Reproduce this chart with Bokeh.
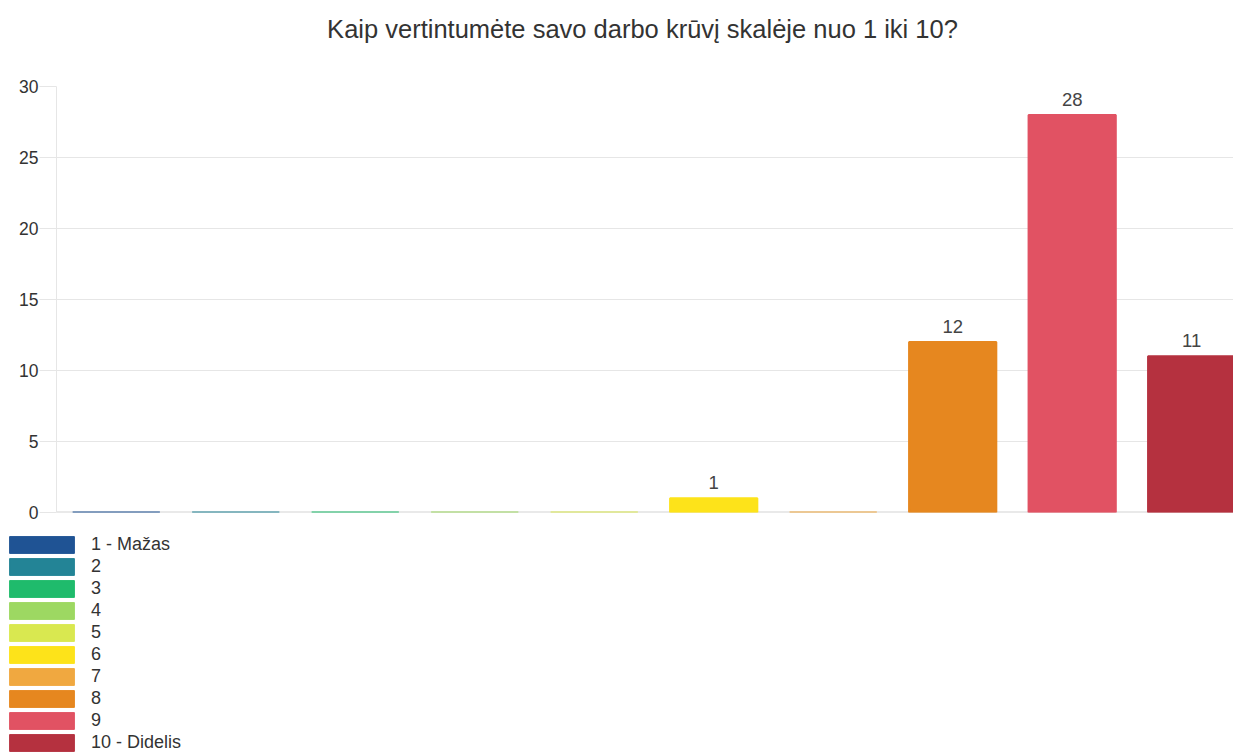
from bokeh.plotting import figure
from bokeh.layouts import column
from bokeh.models import (ColumnDataSource, Range1d, FixedTicker,
                          Legend, LegendItem, Span)
from bokeh.core.properties import value
from bokeh.embed import file_html
from bokeh.resources import INLINE

# ---- data ----
title_text = "Kaip vertintumėte savo darbo krūvį skalėje nuo 1 iki 10?"
categories = ["1 - Mažas", "2", "3", "4", "5", "6", "7", "8", "9", "10 - Didelis"]
counts = [0, 0, 0, 0, 0, 1, 0, 12, 28, 11]
colors = ["#1f5394", "#238496", "#1fbb6c", "#9dd862", "#d9e850",
          "#fde31a", "#f0a840", "#e6871f", "#e15263", "#b5313f"]
y_ticks = [0, 5, 10, 15, 20, 25, 30]

FONT = "Liberation Sans"
positions = list(range(len(categories)))

# ---- title strip ----
tf = figure(width=1233, height=76, output_backend="svg", toolbar_location=None,
            x_axis_location=None, y_axis_location=None,
            x_range=Range1d(0, 1), y_range=Range1d(0, 1), title=title_text,
            min_border_left=51, min_border_right=0, min_border_top=0,
            min_border_bottom=0)
tf.frame_align = False
tf.outline_line_color = None
tf.xgrid.grid_line_color = None
tf.ygrid.grid_line_color = None
tf.title.text_font = FONT
tf.title.text_font_size = "25.5px"
tf.title.text_font_style = "normal"
tf.title.text_color = "#333333"
tf.title.align = "center"
tf.title.vertical_align = "top"
tf.title.standoff = 28

# ---- chart ----
p = figure(width=1233, height=446, output_backend="svg", toolbar_location=None,
           x_range=Range1d(-0.5, 9.35), y_range=Range1d(0, 30),
           x_axis_location=None,
           min_border_left=56, min_border_right=0, min_border_top=10,
           min_border_bottom=10)
p.frame_align = False
p.outline_line_color = None
p.xgrid.grid_line_color = None
p.ygrid.grid_line_color = "#e6e6e6"
p.ygrid.ticker = FixedTicker(ticks=y_ticks)

yax = p.yaxis[0]
yax.ticker = FixedTicker(ticks=y_ticks)
yax.major_label_text_font = FONT
yax.major_label_text_font_size = "17.5px"
yax.major_label_text_color = "#333333"
yax.major_tick_out = 17
yax.major_tick_in = 0
yax.major_tick_line_color = "#e6e6e6"
yax.minor_tick_line_color = None
yax.axis_line_color = "#e6e6e6"
yax.major_label_standoff = 1

zero_line = Span(location=0, dimension="width", line_color="#d4d4d4",
                 line_width=2, level="underlay")
p.add_layout(zero_line)

for pos, cnt, col in zip(positions, counts, colors):
    src = ColumnDataSource(dict(x=[pos], top=[cnt]))
    p.vbar(x="x", top="top", width=0.73, source=src,
           fill_color=col, line_color=col, line_width=2)

lab_x = [x for x, v in zip(positions, counts) if v > 0]
lab_y = [v for v in counts if v > 0]
lab_t = [str(v) for v in counts if v > 0]
p.text(x=lab_x, y=lab_y, text=lab_t, text_align="center",
       text_baseline="bottom", y_offset=-9, text_font=value(FONT),
       text_font_size="18.5px", text_color="#444444")

# ---- legend strip ----
lg = figure(width=1233, height=233, output_backend="svg", toolbar_location=None,
            x_axis_location=None, y_axis_location=None,
            x_range=Range1d(0, 1), y_range=Range1d(0, 1),
            min_border_left=0, min_border_right=0, min_border_top=0,
            min_border_bottom=0)
lg.frame_align = False
lg.outline_line_color = None
lg.xgrid.grid_line_color = None
lg.ygrid.grid_line_color = None

items = []
for pos, cat, cnt, col in zip(positions, categories, counts, colors):
    r = lg.vbar(x=[pos], top=[cnt], width=0.5, fill_color=col, line_color=col,
                line_width=1, visible=False)
    items.append(LegendItem(label=cat, renderers=[r]))

legend = Legend(items=items, location=(1, 2), orientation="vertical",
                padding=0, margin=0, spacing=1, glyph_width=81,
                glyph_height=21, label_height=21, label_standoff=9,
                label_text_font=FONT, label_text_font_size="18px",
                label_text_color="#333333", border_line_color=None,
                background_fill_alpha=0, inactive_fill_alpha=0)
lg.add_layout(legend)

layout = column(tf, p, lg, spacing=0)
open("out.html", "w").write(file_html(layout, INLINE))
